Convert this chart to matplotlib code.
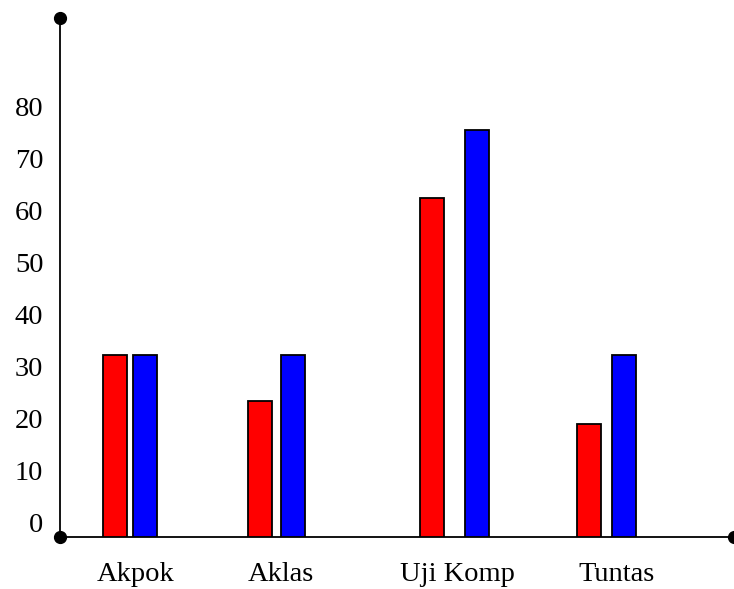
import matplotlib.pyplot as plt
from matplotlib.transforms import ScaledTranslation

categories = ['Akpok', 'Aklas', 'Uji Komp', 'Tuntas']
red_vals = [35, 26.2, 65.2, 21.7]
blue_vals = [35, 35, 78.3, 35]
yticks = [0, 10, 20, 30, 40, 50, 60, 70, 80]

# layout (x in pixel-like units across the axes)
red_x = [114.5, 259.5, 432, 588.5]
blue_x = [144.5, 292.5, 476.5, 623.5]
label_x = [136, 281, 457, 617]
bar_w = 24

plt.rcParams['font.family'] = ['Liberation Serif', 'DejaVu Serif']

fig = plt.figure(figsize=(7.34, 5.89), dpi=100)
ax = fig.add_axes([60/734, 52/589, 674/734, 519/589])

ax.bar(red_x, red_vals, width=bar_w, color='#ff0000', edgecolor='black', linewidth=1.3, zorder=3)
ax.bar(blue_x, blue_vals, width=bar_w, color='#0000ff', edgecolor='black', linewidth=1.3, zorder=3)

ax.set_xlim(60, 734)
ax.set_ylim(0, 519/5.2)

for s in ['top', 'right']:
    ax.spines[s].set_visible(False)
for s in ['left', 'bottom']:
    ax.spines[s].set_linewidth(1.3)

ax.plot([0, 0, 1], [1, 0, 0], 'o', color='black', markersize=8.5,
        transform=ax.transAxes, clip_on=False, zorder=5)

ax.set_yticks(yticks)
ax.set_yticklabels([str(v) for v in yticks], fontsize=20.5)
ax.tick_params(axis='y', length=0, pad=12)
off = ScaledTranslation(0, 15/100, fig.dpi_scale_trans)
for lab in ax.get_yticklabels():
    lab.set_transform(lab.get_transform() + off)

ax.set_xticks(label_x)
ax.set_xticklabels(categories, fontsize=20.5)
ax.tick_params(axis='x', length=0, pad=18)

fig.savefig('out.png', dpi=100)
